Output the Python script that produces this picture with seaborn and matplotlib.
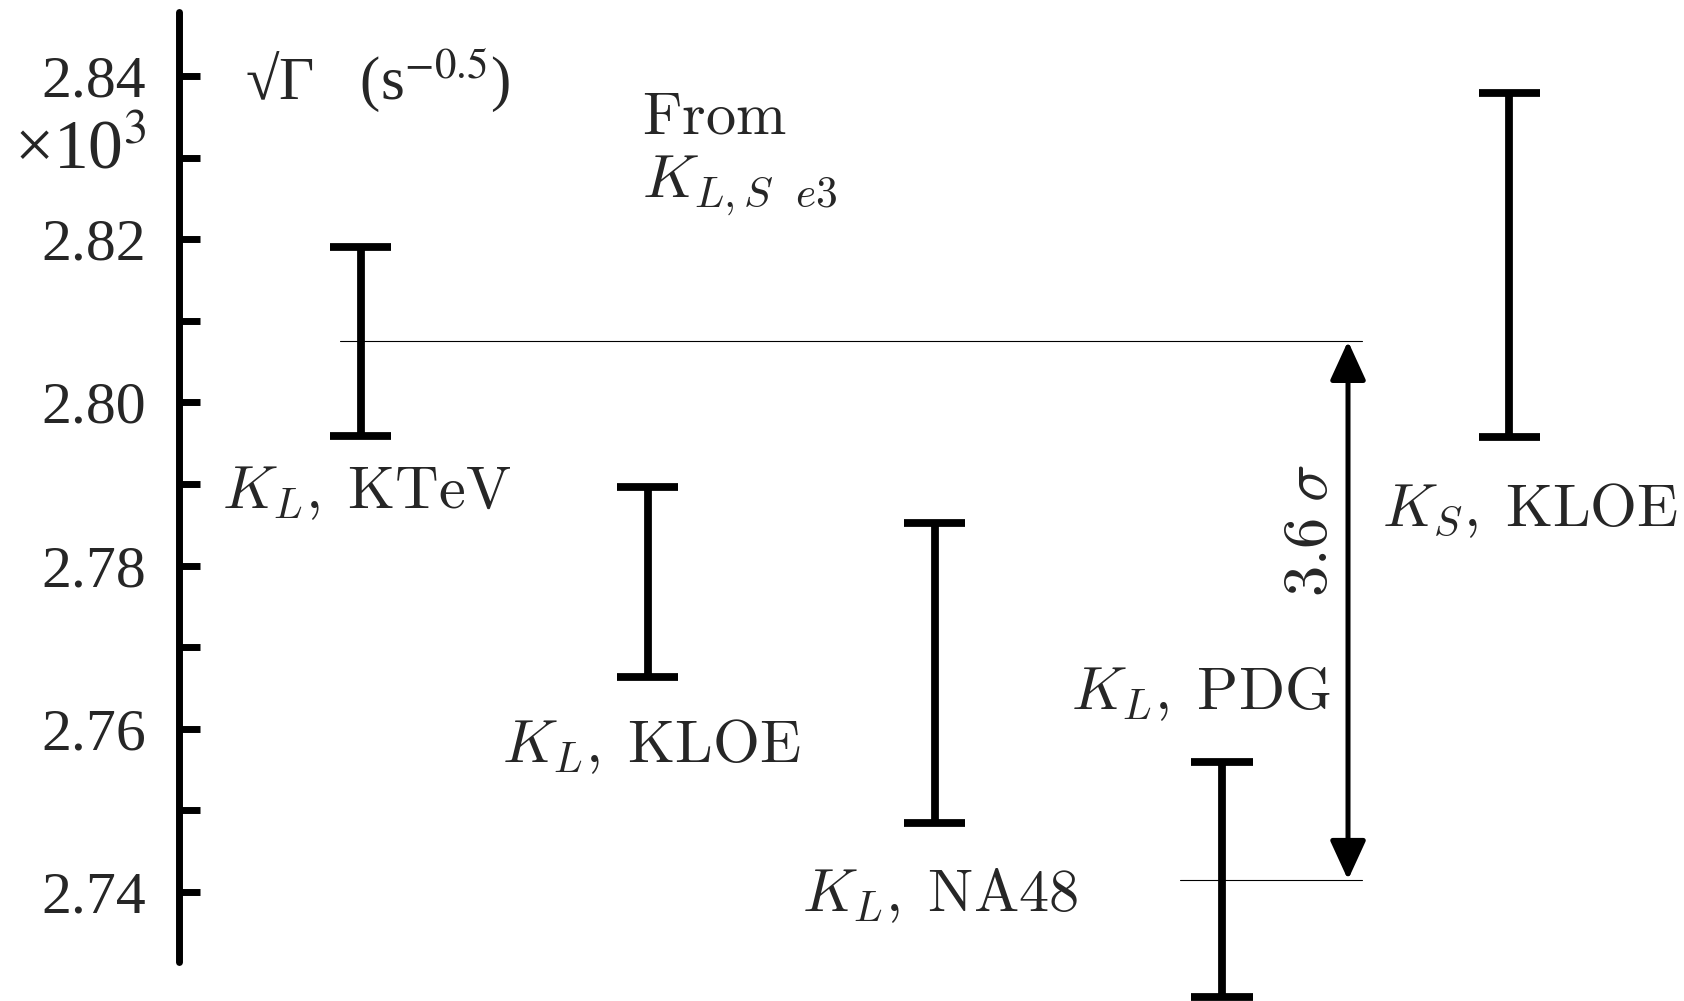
import numpy as np
import pandas as pd
import matplotlib
matplotlib.use("Agg")
import matplotlib.pyplot as plt
import seaborn as sns

# sqrt(Gamma) from K_{L,S} e3 decays, in units of 10^3 s^-0.5
experiments = ["KL_KTeV", "KL_KLOE", "KL_NA48", "KL_PDG", "KS_KLOE"]
centers = [2.8075, 2.7780, 2.7668, 2.7415, 2.8168]
half_widths = [0.0116, 0.0116, 0.0184, 0.0144, 0.0211]
labels = [r"$K_L\mathrm{,\;KTeV}$", r"$K_L\mathrm{,\;KLOE}$", r"$K_L\mathrm{,\;NA48}$",
          r"$K_L\mathrm{,\;PDG}$", r"$K_S\mathrm{,\;KLOE}$"]
tension_text = r"$3.6\;\sigma$"
y_major_ticks = [2.74, 2.76, 2.78, 2.80, 2.82, 2.84]
y_minor_ticks = [2.75, 2.77, 2.79, 2.81, 2.83]

sns.set_theme(style="white")
plt.rcParams["font.family"] = ["Liberation Serif", "DejaVu Serif"]
plt.rcParams["mathtext.fontset"] = "cm"

# interval end points, so the error bar spans exactly [lo, hi]
rows = []
for name, c, h in zip(experiments, centers, half_widths):
    rows.append({"experiment": name, "value": c - h})
    rows.append({"experiment": name, "value": c + h})
df = pd.DataFrame(rows)

W, H = 1684, 1001
fig = plt.figure(figsize=(W / 100, H / 100), dpi=100)
ax = fig.add_axes([179 / W, 1 - 961.5 / H, 1 - 179 / W, 950 / H])

sns.pointplot(data=df, x="experiment", y="value", order=experiments,
              errorbar=lambda v: (v.min(), v.max()), capsize=0.2125,
              linestyle="none", markers="", color="black",
              err_kws={"linewidth": 5.6, "solid_capstyle": "butt"}, ax=ax)
for ln in ax.lines:
    ln.set_clip_on(False)

ax.set_xlim(-0.6329, 4.6092)
ax.set_ylim(2.73148, 2.8479)

# axis styling: only the left spine, inward ticks
sns.despine(ax=ax, top=True, right=True, bottom=True)
ax.spines["left"].set_linewidth(5)
ax.spines["left"].set_color("black")
ax.spines["left"].set_capstyle("round")
ax.set_xticks([])
ax.set_xlabel("")
ax.set_ylabel("")
ax.set_yticks(y_major_ticks)
ax.set_yticks(y_minor_ticks, minor=True)
ax.set_yticklabels([f"{t:.2f}" for t in y_major_ticks])
ax.tick_params(axis="y", which="both", direction="in", length=15, width=5,
               color="black", left=True)
ax.tick_params(axis="y", which="major", labelsize=43, pad=24)
ax.grid(False)

# reference lines through KTeV and PDG central values
ktev_c, pdg_c = centers[0], centers[3]
ax.plot([-0.0728, 3.4876], [ktev_c, ktev_c], color="black", lw=0.8, clip_on=False)
ax.plot([2.8537, 3.4876], [pdg_c, pdg_c], color="black", lw=0.8, clip_on=False)
ax.annotate("", xy=(3.4389, ktev_c), xytext=(3.4389, pdg_c),
            arrowprops=dict(arrowstyle="<|-|>,head_length=1.2,head_width=0.55",
                            mutation_scale=20, lw=3.6, color="black",
                            shrinkA=0, shrinkB=0))
ax.text(3.3139, 2.7843, tension_text, rotation=90, ha="center", va="center",
        fontsize=45)

# experiment labels
label_pos = [(-0.482, 2.78706), (0.4926, 2.75593), (1.5375, 2.73767),
             (2.4745, 2.76243), (3.5577, 2.78485)]
for (lx, ly), lab in zip(label_pos, labels):
    ax.text(lx, ly, lab, ha="left", va="baseline", fontsize=43.5, clip_on=False)

ax.text(0.9799, 2.83289, r"$\mathrm{From}$", ha="left", va="baseline", fontsize=43.5)
ax.text(0.9799, 2.82517, r"$K_{L,S\ \ e3}$", ha="left", va="baseline", fontsize=44.5)

# axis title and scale factor
ax.text(-0.403, 2.83718, "√Γ   (s$^{-0.5}$)", ha="left", va="baseline",
        fontsize=44, math_fontfamily="stix")
ax.text(-0.7443, 2.8286, "×10$^3$", ha="right", va="baseline",
        fontsize=50, math_fontfamily="stix", clip_on=False)

fig.savefig("out.png", dpi=100)
